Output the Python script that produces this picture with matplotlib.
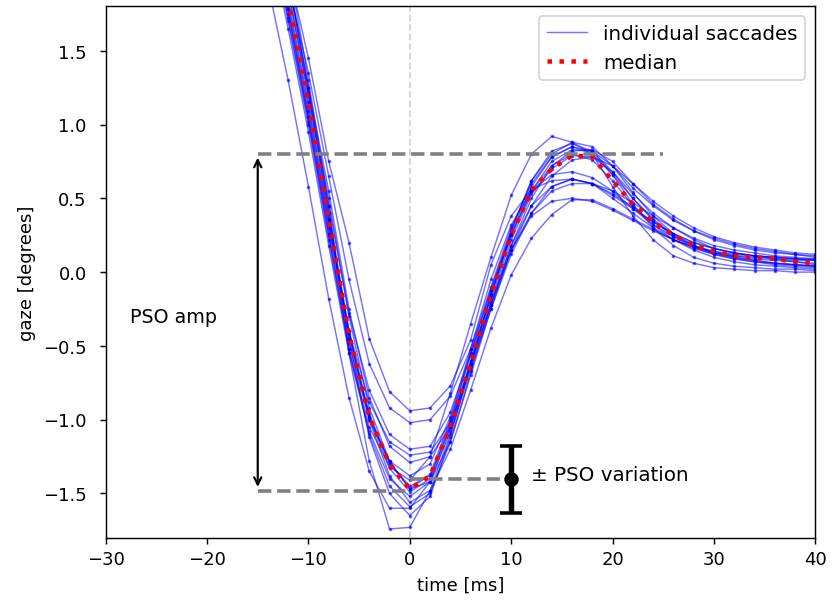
import numpy as np
import matplotlib
matplotlib.use("Agg")
import matplotlib.pyplot as plt

# tiempo de muestreo (2 ms) y trazas leidas a ojo de la figura
t = np.arange(-14, 41, 2)

saccades = [
    [2.45, 1.78, 1.09, 0.30, -0.45, -0.98, -1.29, -1.47, -1.37, -1.00, -0.56, -0.18, 0.22, 0.53, 0.70, 0.79, 0.78, 0.68, 0.53, 0.40, 0.30, 0.22, 0.16, 0.13, 0.11, 0.09, 0.07, 0.05],
    [2.90, 2.10, 1.30, 0.45, -0.55, -1.28, -1.74, -1.73, -1.48, -1.10, -0.62, -0.16, 0.26, 0.58, 0.78, 0.85, 0.80, 0.66, 0.50, 0.36, 0.25, 0.18, 0.13, 0.10, 0.08, 0.06, 0.05, 0.04],
    [1.95, 1.30, 0.58, -0.18, -0.85, -1.35, -1.60, -1.60, -1.42, -1.05, -0.60, -0.15, 0.25, 0.55, 0.72, 0.80, 0.76, 0.62, 0.45, 0.32, 0.22, 0.15, 0.10, 0.07, 0.05, 0.04, 0.03, 0.02],
    [2.60, 2.05, 1.45, 0.75, 0.20, -0.45, -0.81, -0.94, -0.92, -0.77, -0.46, 0.05, 0.38, 0.56, 0.62, 0.63, 0.60, 0.53, 0.44, 0.34, 0.26, 0.20, 0.16, 0.13, 0.11, 0.10, 0.09, 0.08],
    [2.50, 1.95, 1.35, 0.65, -0.05, -0.62, -0.92, -1.02, -1.00, -0.84, -0.52, -0.05, 0.32, 0.55, 0.66, 0.68, 0.64, 0.55, 0.43, 0.32, 0.24, 0.18, 0.14, 0.11, 0.09, 0.08, 0.07, 0.06],
    [2.55, 1.90, 1.20, 0.45, -0.28, -0.80, -1.10, -1.20, -1.18, -0.95, -0.55, -0.12, 0.25, 0.55, 0.75, 0.83, 0.82, 0.72, 0.57, 0.45, 0.35, 0.28, 0.23, 0.19, 0.16, 0.14, 0.12, 0.11],
    [2.40, 1.75, 1.05, 0.32, -0.40, -0.88, -1.15, -1.24, -1.22, -1.02, -0.62, -0.20, 0.18, 0.45, 0.58, 0.63, 0.60, 0.52, 0.43, 0.34, 0.26, 0.20, 0.16, 0.13, 0.11, 0.10, 0.09, 0.08],
    [2.65, 1.98, 1.25, 0.55, -0.25, -0.85, -1.18, -1.29, -1.25, -1.05, -0.64, -0.22, 0.15, 0.40, 0.55, 0.60, 0.60, 0.55, 0.47, 0.38, 0.30, 0.23, 0.18, 0.15, 0.13, 0.11, 0.10, 0.09],
    [2.35, 1.70, 1.00, 0.22, -0.52, -1.05, -1.32, -1.41, -1.25, -0.82, -0.35, 0.10, 0.52, 0.80, 0.92, 0.88, 0.80, 0.58, 0.38, 0.22, 0.11, 0.06, 0.03, 0.02, 0.01, 0.01, 0.00, 0.00],
    [2.50, 1.82, 1.12, 0.35, -0.42, -0.96, -1.30, -1.45, -1.38, -1.05, -0.62, -0.22, 0.18, 0.50, 0.72, 0.82, 0.83, 0.75, 0.60, 0.46, 0.36, 0.28, 0.22, 0.18, 0.15, 0.13, 0.12, 0.10],
    [2.55, 1.85, 1.15, 0.36, -0.40, -0.98, -1.33, -1.49, -1.40, -1.02, -0.55, -0.12, 0.28, 0.62, 0.82, 0.87, 0.82, 0.66, 0.46, 0.30, 0.18, 0.10, 0.06, 0.04, 0.03, 0.02, 0.02, 0.01],
    [2.30, 1.65, 0.95, 0.18, -0.55, -1.08, -1.40, -1.52, -1.42, -1.08, -0.66, -0.25, 0.12, 0.40, 0.58, 0.63, 0.60, 0.50, 0.40, 0.30, 0.22, 0.16, 0.12, 0.09, 0.07, 0.05, 0.04, 0.03],
    [2.60, 1.92, 1.20, 0.40, -0.40, -1.00, -1.38, -1.56, -1.48, -1.20, -0.80, -0.38, -0.02, 0.23, 0.39, 0.49, 0.49, 0.43, 0.36, 0.29, 0.22, 0.17, 0.13, 0.11, 0.10, 0.09, 0.08, 0.08],
    [2.45, 1.78, 1.05, 0.25, -0.52, -1.10, -1.45, -1.59, -1.50, -1.15, -0.68, -0.22, 0.15, 0.38, 0.48, 0.50, 0.48, 0.42, 0.35, 0.28, 0.22, 0.17, 0.14, 0.12, 0.11, 0.10, 0.09, 0.09],
    [2.75, 2.02, 1.25, 0.40, -0.45, -1.12, -1.50, -1.65, -1.52, -1.12, -0.62, -0.15, 0.28, 0.62, 0.80, 0.88, 0.85, 0.72, 0.54, 0.38, 0.26, 0.18, 0.13, 0.10, 0.08, 0.06, 0.05, 0.04],
    [2.40, 1.72, 1.02, 0.26, -0.48, -1.00, -1.28, -1.38, -1.30, -0.98, -0.52, -0.10, 0.30, 0.60, 0.78, 0.85, 0.82, 0.68, 0.50, 0.35, 0.24, 0.17, 0.12, 0.09, 0.07, 0.06, 0.05, 0.04],
    [2.70, 2.00, 1.22, 0.50, -0.30, -0.92, -1.28, -1.47, -1.42, -1.15, -0.70, -0.25, 0.15, 0.45, 0.65, 0.76, 0.78, 0.72, 0.60, 0.48, 0.38, 0.30, 0.24, 0.20, 0.17, 0.15, 0.13, 0.12],
]

# niveles de la anotacion
pso_top = 0.8
pso_bottom = -1.48
pso_mean = -1.405
pso_sd = 0.225

data = np.array(saccades)
median = np.median(data, axis=0)

fig = plt.figure(figsize=(6.4, 4.66), dpi=130)
ax = fig.add_axes([0.127, 0.111, 0.853, 0.877])

ax.axvline(0, color="lightgray", linestyle="--", linewidth=1, zorder=0)

for y in data:
    ax.plot(t, y, color="b", alpha=0.55, linewidth=0.8, marker=".", markersize=2)
# entrada de la leyenda sin marcadores
ax.plot([], [], color="b", alpha=0.55, linewidth=0.8, label="individual saccades")
ax.plot(t, median, color="red", linestyle=":", linewidth=2.5, label="median")

# lineas de referencia de la amplitud
ax.plot([-15, 25], [pso_top, pso_top], color="gray", linestyle="--", linewidth=2)
ax.plot([-15, 0], [pso_bottom, pso_bottom], color="gray", linestyle="--", linewidth=2)
ax.plot([0, 10], [pso_mean, pso_mean], color="gray", linestyle="--", linewidth=2)
ax.annotate("", xy=(-15, pso_top), xytext=(-15, pso_bottom),
            arrowprops=dict(arrowstyle="<->", color="black", linewidth=1.2))
ax.text(-23.3, -0.3, "PSO amp", ha="center", va="center", fontsize=10.5)

ax.errorbar([10], [pso_mean], yerr=[pso_sd], color="black", marker="o", markersize=7,
            linewidth=3, capsize=6, capthick=2)
ax.text(12, -1.37, "± PSO variation", ha="left", va="center", fontsize=11)

ax.set_xlim(-30, 40)
ax.set_ylim(-1.8, 1.8)
ax.tick_params(axis="y", pad=7)
ax.set_xlabel("time [ms]")
ax.set_ylabel("gaze [degrees]")
ax.legend(loc="upper right", fontsize=11)

fig.savefig("out.png", dpi=130)
